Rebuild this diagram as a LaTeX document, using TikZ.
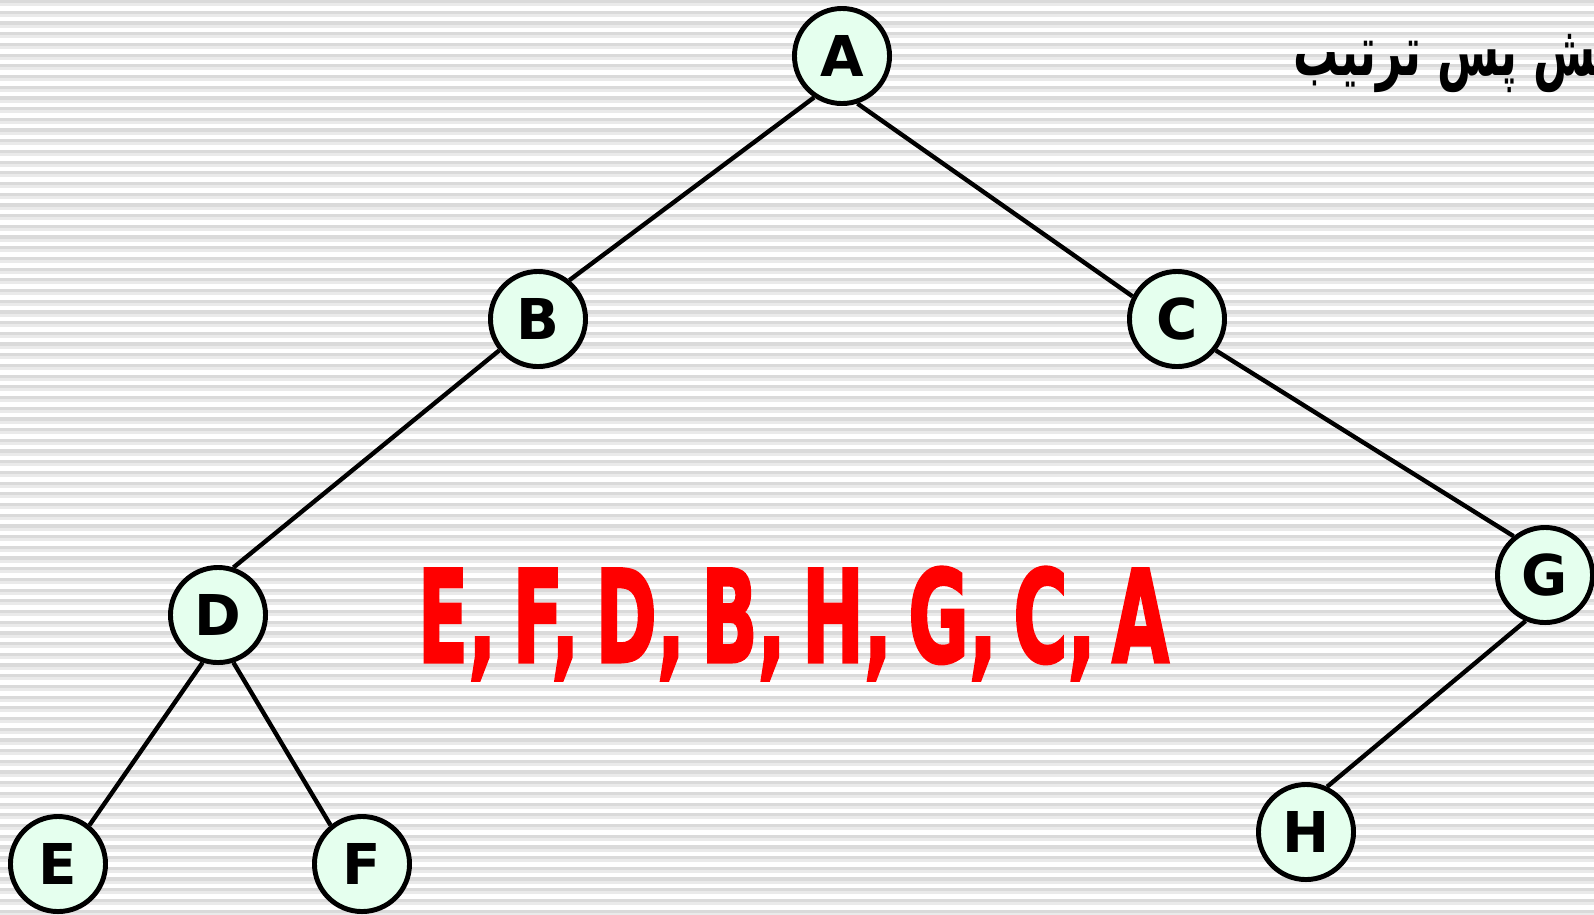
\documentclass[tikz,border=0pt]{standalone}
\usepackage{fontspec}
\setsansfont{DejaVu Sans}
\newfontfamily\arabicfont[Script=Arabic]{DejaVu Sans}
\newfontfamily\heavyfont[FakeBold=2.5]{DejaVu Sans}
\TeXXeTstate=1
\definecolor{stripegray}{RGB}{218,218,218}
\definecolor{stripelight}{RGB}{234,234,234}
\definecolor{mintfill}{RGB}{229,255,238}
\usetikzlibrary{positioning}
\newcommand{\sep}{,\hspace{0.22em}}

\begin{document}
\begin{tikzpicture}[x=0.01cm,y=-0.01cm,
  vertex/.style={circle,draw,line width=1.4pt,fill=mintfill,minimum size=0.95cm,
                 inner sep=0pt,font=\sffamily\bfseries\fontsize{16}{18}\selectfont},
  branch/.style={line width=1.25pt}]
  \useasboundingbox (0,0) rectangle (1594,914);
  \clip (0,0) rectangle (1594,914);
  % striped background
  \fill[white] (0,0) rectangle (1594,914);
  \foreach \i in {0,...,86}{
    \fill[stripegray] (0,\i*10.7) rectangle (1594,\i*10.7+3.2);
    \fill[stripelight] (0,\i*10.7+3.2) rectangle (1594,\i*10.7+6.2);
  }
  % title
  \node[anchor=base west,inner sep=0pt] (title) at (1293,75)
    {\scalebox{0.64}[1]{\arabicfont\bfseries\fontsize{20}{22}\selectfont\beginR پیمایش پس ترتیب\endR}};
  % tree
  \node[vertex] (a) at (842,56) {A};
  \node[vertex] (b) at (538,319) {B};
  \node[vertex] (c) at (1177,319) {C};
  \node[vertex] (d) at (218,615) {D};
  \node[vertex] (e) at (58,864) {E};
  \node[vertex] (f) at (362,864) {F};
  \node[vertex] (g) at (1545,575) {G};
  \node[vertex] (h) at (1306,832) {H};
  \draw[branch] (a.236) -- (b.51);
  \draw[branch] (a.288) -- (c.153);
  \draw[branch] (b.219) -- (d.72);
  \draw[branch] (d.252) -- (e.51);
  \draw[branch] (d.288) -- (f.129);
  \draw[branch] (c.321) -- (g.129);
  \draw[branch] (g.247) -- (h.65);
  % postorder sequence
  \node[anchor=base west,inner sep=0pt,text=red] (order) at (417,662)
    {\resizebox{7.51cm}{0.95cm}{\heavyfont\bfseries\fontsize{30}{32}\selectfont
      E\sep F\sep D\sep B\sep H\sep G\sep C\sep A}};
\end{tikzpicture}
\end{document}
